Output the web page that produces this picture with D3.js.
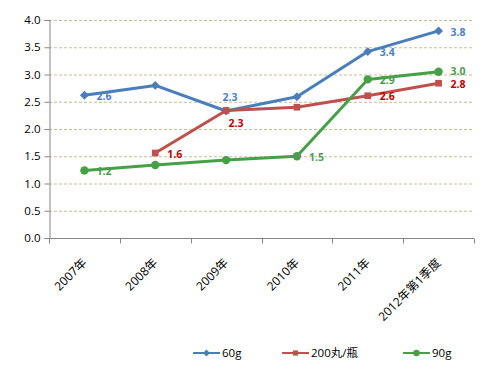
<!DOCTYPE html>
<html lang="zh">
  <head>
    <meta charset="utf-8" />
    <title>Line chart</title>
    <script src="https://d3js.org/d3.v7.min.js"></script>
    <style>
      body { margin: 0; background: #fff; }
      svg text { font-family: "Open Sans", "Noto Sans CJK SC", sans-serif; font-size: 11px; }
    </style>
  </head>
  <body>
    <svg width="493" height="366"></svg>
  </body>
  <script>
    // Data
    const categories = ['2007年', '2008年', '2009年', '2010年', '2011年', '2012年第1季度'];
    const seriesNames = ['60g', '200丸/瓶', '90g'];
    const values60g = [2.62, 2.80, 2.33, 2.59, 3.42, 3.80];
    const values200 = [null, 1.56, 2.34, 2.40, 2.61, 2.84];
    const values90g = [1.24, 1.34, 1.43, 1.50, 2.91, 3.05];
    const yTicks = [0, 0.5, 1, 1.5, 2, 2.5, 3, 3.5, 4];
    // which points carry a value label
    const labels60g = [true, false, true, false, true, true];
    const labels200 = [false, true, true, false, true, true];
    const labels90g = [true, false, false, true, true, true];

    const svg = d3.select('svg');
    const plotLeft = 49, plotRight = 474, plotTop = 20, plotBottom = 238;

    const x = d3.scaleBand().domain(categories).range([plotLeft, plotRight]);
    const y = d3.scaleLinear().domain([0, 4]).range([plotBottom, plotTop]);

    // dashed gridlines
    svg.append('g')
      .selectAll('line')
      .data(yTicks.filter(d => d > 0))
      .join('line')
      .attr('x1', plotLeft).attr('x2', plotRight)
      .attr('y1', d => y(d) + 0.5).attr('y2', d => y(d) + 0.5)
      .attr('stroke', '#c4bd97')
      .attr('stroke-dasharray', '3,2');

    // y axis
    const yAxis = svg.append('g')
      .attr('transform', `translate(${plotLeft + 0.5},0)`)
      .call(d3.axisLeft(y).tickValues(yTicks).tickFormat(d3.format('.1f')).tickSize(5).tickPadding(4));
    yAxis.select('.domain').attr('stroke', '#868686');
    yAxis.selectAll('.tick line').attr('stroke', '#868686');
    yAxis.selectAll('.tick text').attr('fill', '#000').style('font-size', '11.5px');

    // x axis with ticks on band boundaries
    const xAxis = svg.append('g').attr('transform', `translate(0,${plotBottom + 0.5})`);
    xAxis.append('line')
      .attr('x1', plotLeft).attr('x2', plotRight)
      .attr('stroke', '#868686');
    const bounds = categories.map(c => x(c)).concat([plotRight]);
    xAxis.selectAll('line.tk')
      .data(bounds)
      .join('line')
      .attr('class', 'tk')
      .attr('x1', d => Math.round(d) + 0.5).attr('x2', d => Math.round(d) + 0.5)
      .attr('y1', 0).attr('y2', 5)
      .attr('stroke', '#868686');
    xAxis.selectAll('text')
      .data(categories)
      .join('text')
      .attr('transform', d => `translate(${x(d) + x.bandwidth() / 2 + 3},${25}) rotate(-45)`)
      .attr('text-anchor', 'end')
      .attr('fill', '#000')
      .style('font-size', '12px')
      .text(d => d);

    const cx = c => x(c) + x.bandwidth() / 2;

    const series = [
      { name: seriesNames[0], values: values60g, labels: labels60g, color: '#4a7ebb', text: '#4f81bd', marker: d3.symbolSquare, rot: 45, size: 40 },
      { name: seriesNames[1], values: values200, labels: labels200, color: '#c0504d', text: '#c00000', marker: d3.symbolSquare, rot: 0, size: 45 },
      { name: seriesNames[2], values: values90g, labels: labels90g, color: '#46a046', text: '#4e9a4e', marker: d3.symbolCircle, rot: 0, size: 55 }
    ];

    const line = d3.line()
      .defined(d => d.v != null)
      .x(d => cx(d.c))
      .y(d => y(d.v));

    series.forEach(s => {
      const pts = categories.map((c, i) => ({ c, v: s.values[i], lab: s.labels[i], i }));
      const g = svg.append('g');
      g.append('path')
        .datum(pts)
        .attr('d', line)
        .attr('fill', 'none')
        .attr('stroke', s.color)
        .attr('stroke-width', 3)
        .attr('stroke-linejoin', 'round');
      g.selectAll('path.m')
        .data(pts.filter(d => d.v != null))
        .join('path')
        .attr('class', 'm')
        .attr('transform', d => `translate(${cx(d.c)},${y(d.v)}) rotate(${s.rot})`)
        .attr('d', d3.symbol().type(s.marker).size(s.size))
        .attr('fill', s.color);
    });

    // value labels
    series.forEach((s, si) => {
      const pts = categories.map((c, i) => ({ c, v: s.values[i], lab: s.labels[i], i }))
        .filter(d => d.v != null && d.lab);
      svg.append('g')
        .selectAll('text')
        .data(pts)
        .join('text')
        .attr('x', d => {
          if (si === 0 && d.i === 2) return cx(d.c) + 4;
          if (si === 1 && d.i === 2) return cx(d.c) + 10;
          return cx(d.c) + 12;
        })
        .attr('y', d => {
          if (si === 0 && d.i === 2) return y(d.v) - 14;
          if (si === 1 && d.i === 2) return y(d.v) + 13;
          if (si === 2 && d.i === 5) return y(d.v);
          if (si === 1 && d.i === 5) return y(d.v) + 1.5;
          return y(d.v) + 1;
        })
        .attr('dy', '0.35em')
        .attr('text-anchor', d => (d.i === 2 ? 'middle' : 'start'))
        .attr('fill', s.text)
        .style('font-weight', 'bold')
        .style('font-size', '10.5px')
        .text(d => d3.format('.1f')(d.v));
    });

    // legend
    const legendX = [193, 282, 403];
    const legendY = 353;
    series.forEach((s, i) => {
      const g = svg.append('g').attr('transform', `translate(${legendX[i]},${legendY})`);
      g.append('line')
        .attr('x1', 0).attr('x2', 27)
        .attr('stroke', s.color).attr('stroke-width', 2);
      g.append('path')
        .attr('transform', `translate(13.5,0) rotate(${s.rot})`)
        .attr('d', d3.symbol().type(s.marker).size(s.size * 0.6))
        .attr('fill', s.color);
      g.append('text')
        .attr('x', 29).attr('dy', '0.35em')
        .attr('fill', '#000')
        .style('font-size', '11.5px')
        .text(s.name);
    });
  </script>
</html>
